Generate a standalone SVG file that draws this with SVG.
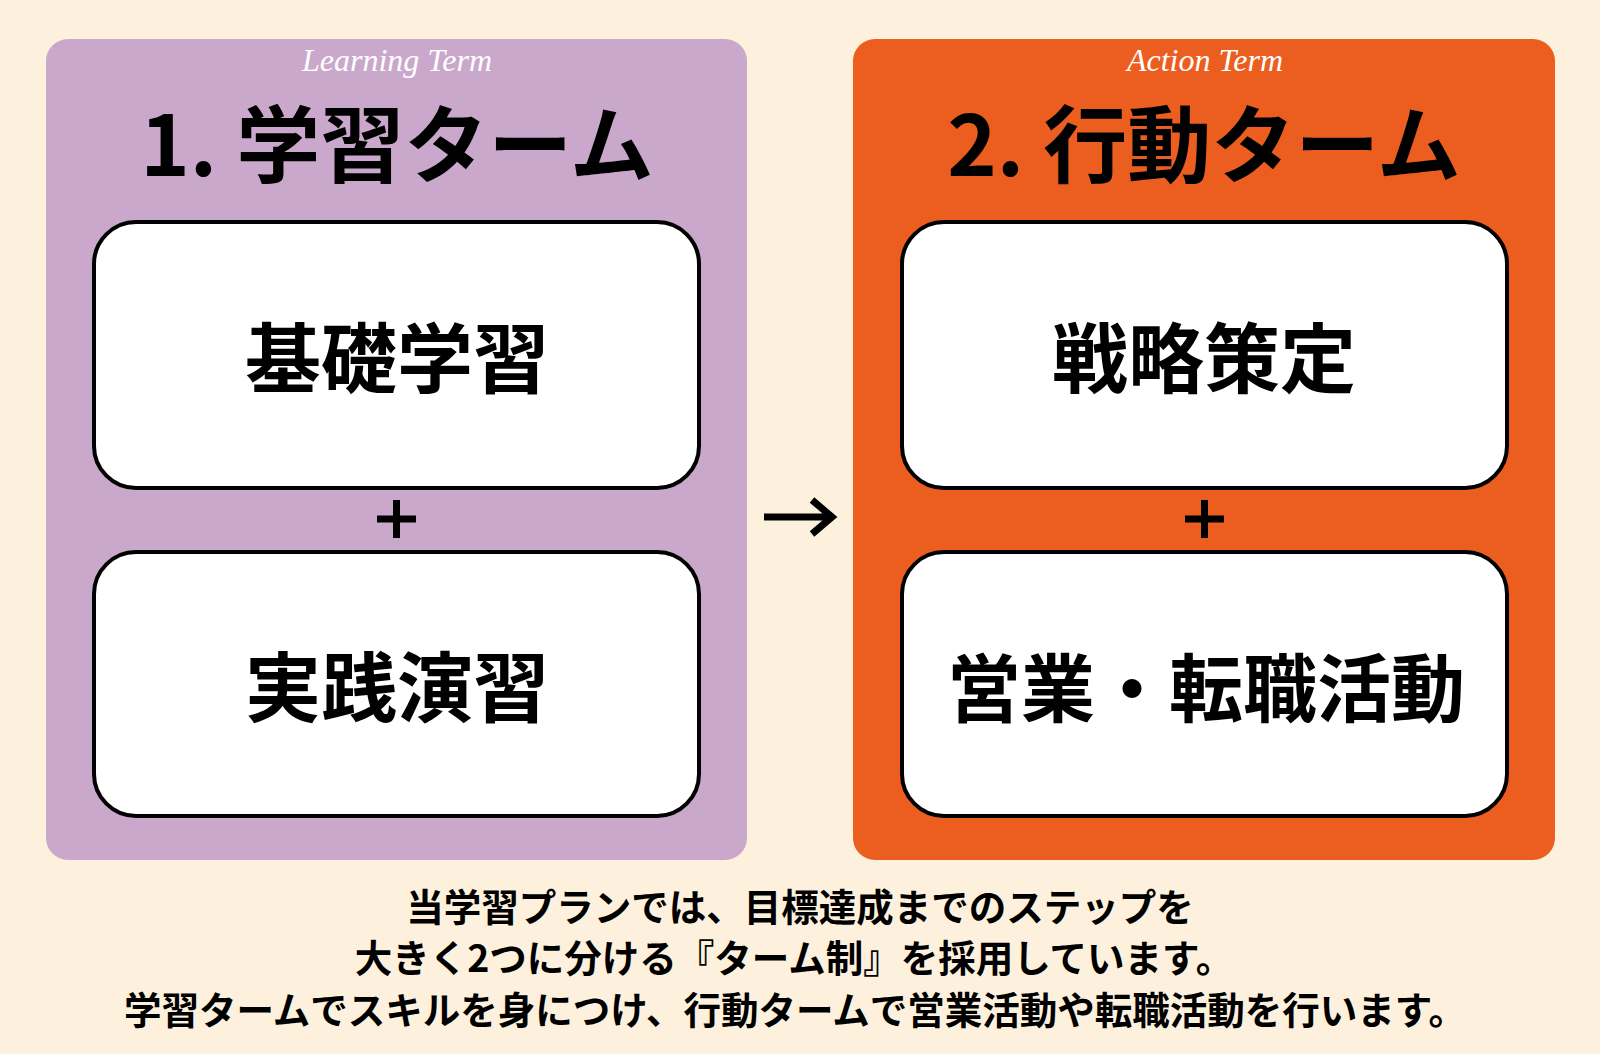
<svg xmlns="http://www.w3.org/2000/svg" width="1600" height="1054" viewBox="0 0 1600 1054">
  <defs>
    <style>
      .jp { font-family: "Noto Sans CJK JP", "Noto Sans", sans-serif; font-weight: 700; fill: #000; text-anchor: middle; }
      .head { font-size: 84px; }
      .box { fill: #fff; stroke: #000; stroke-width: 4; }
      .lbl { font-size: 76px; }
      .script { font-family: "Liberation Serif", "DejaVu Serif", serif; font-style: italic; font-size: 32px; fill: #fff; text-anchor: middle; }
      .plus { fill: none; stroke: #000; stroke-width: 7; }
      .note { font-size: 37.5px; }
    </style>
  </defs>
  <rect x="0" y="0" width="1600" height="1054" fill="#FDF1DD"/>

  <g id="learning-term">
    <rect x="46" y="39" width="701" height="821" rx="22" fill="#C9A8CB"/>
    <text class="script" x="397" y="71">Learning Term</text>
    <text class="jp head" x="397" y="176">1. 学習ターム</text>
  </g>
  <g id="basic-study">
    <rect class="box" x="94" y="222" width="605" height="266" rx="42"/>
    <text class="jp lbl" x="397" y="387">基礎学習</text>
  </g>
  <g id="plus-left">
    <path class="plus" d="M377 519 H416 M396.5 500 V538"/>
  </g>
  <g id="practice">
    <rect class="box" x="94" y="552" width="605" height="264" rx="42"/>
    <text class="jp lbl" x="397" y="716">実践演習</text>
  </g>

  <g id="action-term">
    <rect x="853" y="39" width="702" height="821" rx="22" fill="#EC5E20"/>
    <text class="script" x="1205" y="71">Action Term</text>
    <text class="jp head" x="1204" y="176">2. 行動ターム</text>
  </g>
  <g id="strategy">
    <rect class="box" x="902" y="222" width="605" height="266" rx="42"/>
    <text class="jp lbl" x="1204" y="387">戦略策定</text>
  </g>
  <g id="plus-right">
    <path class="plus" d="M1185 519 H1224 M1204.5 500 V538"/>
  </g>
  <g id="sales">
    <rect class="box" x="902" y="552" width="605" height="264" rx="42"/>
    <text class="jp lbl" x="1206" y="716" style="font-size:74px">営業・転職活動</text>
  </g>

  <g id="connectors">
    <path d="M764 517 H832 M812 500 L832 517 L812 534" fill="none" stroke="#000" stroke-width="7"/>
  </g>

  <g id="note">
    <text class="jp note" x="800" y="921">当学習プランでは、目標達成までのステップを</text>
    <text class="jp note" x="794" y="972">大きく2つに分ける『ターム制』を採用しています。</text>
    <text class="jp note" x="795" y="1024">学習タームでスキルを身につけ、行動タームで営業活動や転職活動を行います。</text>
  </g>
</svg>
